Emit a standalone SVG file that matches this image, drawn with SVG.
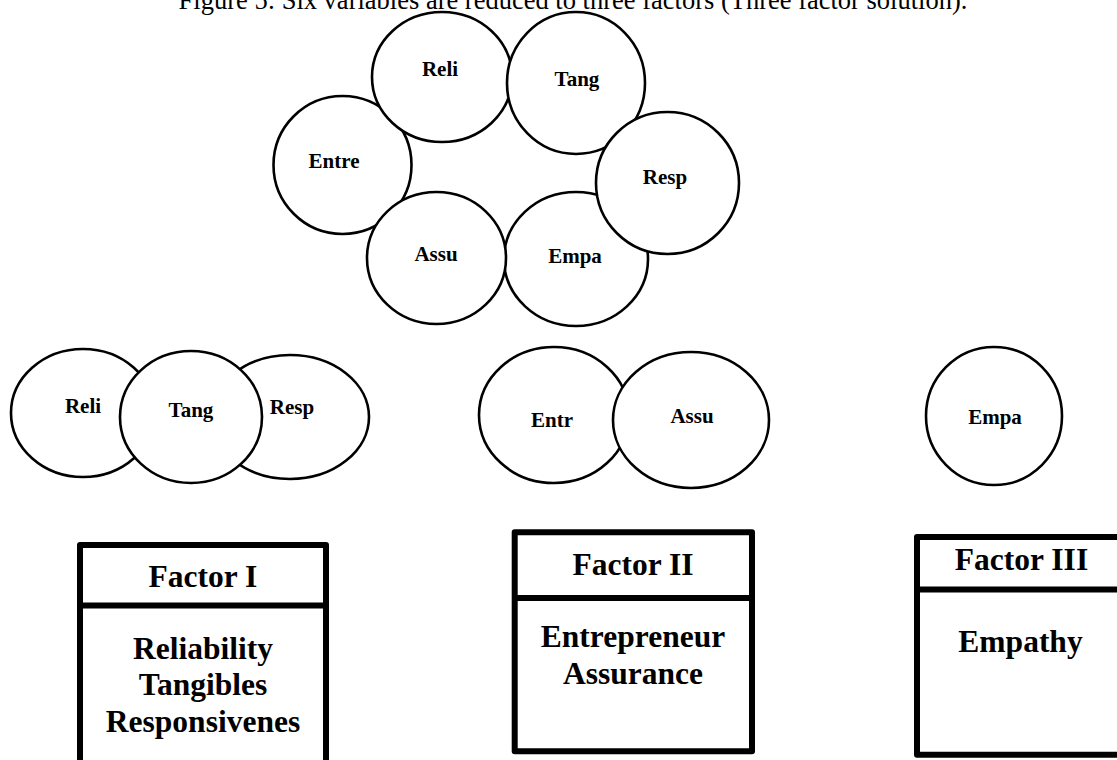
<svg xmlns="http://www.w3.org/2000/svg" width="1117" height="760" viewBox="0 0 1117 760">
<style>
.bg{fill:#ffffff}
.c{fill:#ffffff;stroke:#000000;stroke-width:2.6}
.box{fill:#ffffff;stroke:#000000;stroke-width:6;stroke-linejoin:round}
.div{stroke:#000000;stroke-width:6}
.t{font-family:"Liberation Serif","Times New Roman",serif;fill:#000000;text-anchor:middle}
.lbl{font-size:21px;font-weight:bold}
.hd{font-size:31.5px;font-weight:bold}
.title{font-size:26.5px}
</style>
<rect class="bg" x="0" y="0" width="1117" height="760"/>
<text class="t title" x="573" y="8.5">Figure 5: Six variables are reduced to three factors (Three factor solution).</text>
<g id="connectors"></g>
<g id="top-entre"><ellipse class="c" cx="342.5" cy="165" rx="69" ry="69"/><text class="t lbl" x="334" y="168">Entre</text></g>
<g id="top-reli"><ellipse class="c" cx="442" cy="77" rx="70" ry="65"/><text class="t lbl" x="440" y="76">Reli</text></g>
<g id="top-tang"><ellipse class="c" cx="576" cy="83" rx="69" ry="71"/><text class="t lbl" x="577" y="86">Tang</text></g>
<g id="top-empa"><ellipse class="c" cx="576" cy="259" rx="72" ry="67"/><text class="t lbl" x="575" y="263">Empa</text></g>
<g id="top-resp"><ellipse class="c" cx="667.5" cy="183" rx="71.5" ry="71"/><text class="t lbl" x="665" y="184">Resp</text></g>
<g id="top-assu"><ellipse class="c" cx="436.5" cy="258" rx="69.5" ry="66"/><text class="t lbl" x="436" y="261">Assu</text></g>
<g id="f1-reli"><ellipse class="c" cx="83" cy="413" rx="72" ry="64"/><text class="t lbl" x="83" y="413">Reli</text></g>
<g id="f1-resp"><ellipse class="c" cx="290" cy="417" rx="79" ry="62"/><text class="t lbl" x="292" y="414">Resp</text></g>
<g id="f1-tang"><ellipse class="c" cx="191" cy="417" rx="71" ry="66"/><text class="t lbl" x="191" y="417">Tang</text></g>
<g id="f2-entr"><ellipse class="c" cx="554" cy="415" rx="75" ry="68"/><text class="t lbl" x="552" y="427">Entr</text></g>
<g id="f2-assu"><ellipse class="c" cx="691" cy="420" rx="78" ry="68"/><text class="t lbl" x="692" y="423">Assu</text></g>
<g id="f3-empa"><ellipse class="c" cx="994" cy="416" rx="68" ry="69"/><text class="t lbl" x="995" y="424">Empa</text></g>
<g id="factor1">
<rect class="box" x="80" y="545" width="246" height="240"/>
<line class="div" x1="80" y1="605.5" x2="326" y2="605.5"/>
<text class="t hd" x="203" y="587">Factor I</text>
<text class="t hd" x="203" y="659">Reliability</text>
<text class="t hd" x="203" y="695">Tangibles</text>
<text class="t hd" x="203" y="732">Responsivenes</text>
</g>
<g id="factor2">
<rect class="box" x="514.7" y="532.3" width="237.3" height="219"/>
<line class="div" x1="514.7" y1="598" x2="752" y2="598"/>
<text class="t hd" x="633" y="575">Factor II</text>
<text class="t hd" x="633" y="646.5">Entrepreneur</text>
<text class="t hd" x="633" y="684">Assurance</text>
</g>
<g id="factor3">
<rect class="box" x="917" y="537" width="210" height="217.7"/>
<line class="div" x1="917" y1="589.5" x2="1127" y2="589.5"/>
<text class="t hd" x="1021.5" y="570">Factor III</text>
<text class="t hd" x="1020.5" y="652">Empathy</text>
</g>
</svg>
